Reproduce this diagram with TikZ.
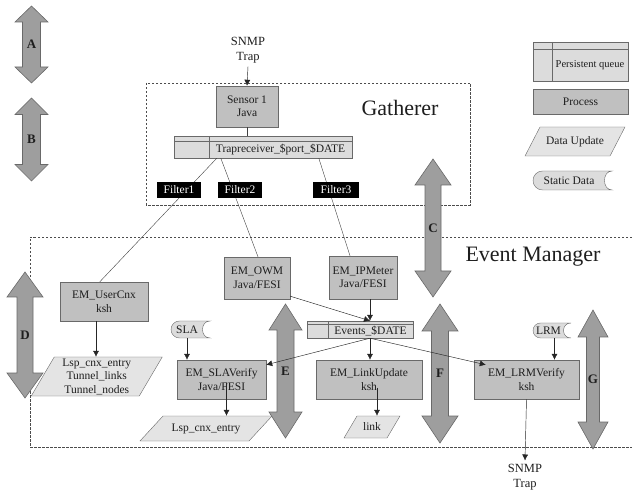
\documentclass[tikz,border=0pt]{standalone}
\usepackage{fontspec}
\setmainfont{Liberation Serif}
\usetikzlibrary{arrows.meta,calc}

\definecolor{procfill}{RGB}{192,192,192}
\definecolor{queuefill}{RGB}{220,220,220}
\definecolor{datafill}{RGB}{228,228,228}
\definecolor{arrfill}{RGB}{158,158,158}
\definecolor{edgegray}{RGB}{105,105,105}
\definecolor{inkgray}{RGB}{30,30,30}

\tikzset{
  every node/.style={font=\fontsize{11.5}{13.5}\selectfont, text=inkgray},
  process/.style={draw=edgegray, fill=procfill, align=center, inner sep=0pt},
  queue/.style={draw=edgegray, fill=queuefill, inner sep=0pt},
  filterbox/.style={fill=black, text=white, inner sep=0pt, minimum height=16pt},
  shapetext/.style={inner sep=0pt, align=center},
  conn/.style={-{Latex[length=6pt,width=6pt]}, draw=black!85, line width=0.45pt},
  flow/.style={draw=black!75, line width=0.4pt},
  region/.style={draw=black!70, dash pattern=on 2.5pt off 1.5pt, line width=0.4pt},
  bigarrow/.style={draw=edgegray, fill=arrfill, line width=0.6pt},
  arrlabel/.style={font=\fontsize{13}{13}\bfseries\selectfont},
  title/.style={font=\fontsize{22}{24}\selectfont},
  trap/.style={font=\fontsize{12.5}{15}\selectfont, align=center}
}

% double headed grey arrow: name, x, ytop, ybot, head length, head half, shaft half, label
\newcommand{\bigarr}[8]{%
  \filldraw[bigarrow] (#2,#3) -- (#2+#6,#3+#5) -- (#2+#7,#3+#5) -- (#2+#7,#4-#5)
    -- (#2+#6,#4-#5) -- (#2,#4) -- (#2-#6,#4-#5) -- (#2-#7,#4-#5)
    -- (#2-#7,#3+#5) -- (#2-#6,#3+#5) -- cycle;
  \node[arrlabel] (#1) at (#2,{(#3+#4)/2}) {#8};
}
% persistent queue: name, cx, cy, width, height, divider, strip, text
\newcommand{\pqueue}[8]{%
  \node[queue, minimum width=#4pt, minimum height=#5pt] (#1) at (#2,#3) {};
  \draw[edgegray] ([yshift=-#7pt]#1.north west) -- ([yshift=-#7pt]#1.north east);
  \draw[edgegray] ([xshift=#6pt]#1.north west) -- ([xshift=#6pt]#1.south west);
  \node (#1-txt) at ([xshift=#6pt/2, yshift=-#7pt/2]#1.center) {#8};
}
% data update: name, cx, cy, top width, height, slant, text
\newcommand{\dataupd}[7]{%
  \filldraw[draw=edgegray, fill=datafill] (#2-#4/2+#6/2,#3-#5/2) -- (#2+#4/2+#6/2,#3-#5/2)
    -- (#2+#4/2-#6/2,#3+#5/2) -- (#2-#4/2-#6/2,#3+#5/2) -- cycle;
  \node[shapetext, minimum height=#5pt] (#1) at (#2,#3) {#7};
}
% static data: name, x1, y1, x2, y2, text
\newcommand{\statdata}[6]{%
  \pgfmathsetmacro\sdr{(#5-#3)/2}
  \pgfmathsetmacro\sdk{0.55*\sdr}
  \pgfmathsetmacro\sdm{(#3+#5)/2}
  \pgfmathsetmacro\sdh{#5-#3}
  \filldraw[draw=edgegray, fill=queuefill] (#4,#3) -- (#2+\sdr,#3)
    .. controls (#2+\sdr-\sdk,#3) and (#2,\sdm-\sdk) .. (#2,\sdm)
    .. controls (#2,\sdm+\sdk) and (#2+\sdr-\sdk,#5) .. (#2+\sdr,#5)
    -- (#4,#5) .. controls (#4-10,#5) and (#4-10,#3) .. (#4,#3) -- cycle;
  \node[shapetext, minimum height=\sdh pt] (#1) at ({(#2+#4-7)/2},\sdm) {#6};
}

\begin{document}
\begin{tikzpicture}[x=1pt,y=-1pt]
\useasboundingbox (0,0) rectangle (632,494);

% Regions
\draw[region] (146,83) rectangle (470,205);
\node[title] (gath) at (400,108) {Gatherer};
\draw[region] (632,237) -- (30,237) -- (30,447) -- (632,447);
\node[title] (evman) at (533,257) {Event Manager};

% Legend
\pqueue{legqueue}{580.5}{61.5}{95}{39}{19}{7}{\fontsize{10.5}{12}\selectfont Persistent queue}
\node[process, minimum width=95pt, minimum height=25pt] (legproc) at (580.5,101.5) {Process};
\dataupd{legdata}{575}{141.5}{85}{29}{15}{Data Update}
\statdata{legstat}{533}{171}{612}{190}{Static Data}

% Gatherer
\node[trap] (snmpin) at (248,50) {SNMP\\Trap};
\node[process, minimum width=62pt, minimum height=41pt] (sensor) at (247,106.5) {Sensor 1\\Java};
\pqueue{trapq}{263}{147}{178}{22}{35}{5}{Trapreceiver\_\$port\_\$DATE}

% Event Manager
\node[process, minimum width=88pt, minimum height=39pt] (usercnx) at (104,301.5) {EM\_UserCnx\\ksh};
\node[process, minimum width=66pt, minimum height=42pt] (owm) at (257,278) {EM\_OWM\\Java/FESI};
\node[process, minimum width=68pt, minimum height=43pt] (ipmeter) at (363,277.5) {EM\_IPMeter\\Java/FESI};
\pqueue{events}{360}{329.5}{106}{17}{21}{3.5}{Events\_\$DATE}
\node[process, minimum width=89pt, minimum height=39pt] (slaverify) at (221.5,379.5) {EM\_SLAVerify\\Java/FESI};
\node[process, minimum width=106pt, minimum height=39pt] (linkupd) at (369,379.5) {EM\_LinkUpdate\\ksh};
\node[process, minimum width=105pt, minimum height=39pt] (lrmverify) at (526.5,379.5) {EM\_LRMVerify\\ksh};
\statdata{sla}{171}{321}{210}{338}{SLA}
\statdata{lrm}{533}{323}{571}{338}{LRM}
\dataupd{lsp}{96.75}{376.5}{108}{39}{23}{Lsp\_cnx\_entry\\Tunnel\_links\\Tunnel\_nodes}
\dataupd{lspsla}{206}{428.5}{109}{25}{23}{Lsp\_cnx\_entry}
\dataupd{link}{372}{427}{43}{22}{13}{link}
\node[trap] (snmpout) at (525,477) {SNMP\\Trap};

% Grey arrows
\bigarr{arrA}{31.5}{6}{83}{16}{16.5}{9}{A}
\bigarr{arrB}{31.5}{98}{181}{16.5}{16.5}{9}{B}
\bigarr{arrC}{433}{159}{297}{26}{18}{8}{C}
\bigarr{arrD}{25}{272}{398}{25}{18}{8}{D}
\bigarr{arrE}{285.5}{304}{438}{26}{16.5}{8.5}{E}
\bigarr{arrF}{440}{304}{443}{27}{18}{8.5}{F}
\bigarr{arrG}{593}{310}{449}{27}{15}{6.5}{G}

% Connectors
\draw[conn] (snmpin.south) -- (sensor.north);
\draw[flow] (sensor.south) -- (sensor.south |- trapq.north);
\draw[flow] ([xshift=43pt]trapq.south west) -- ([xshift=40pt]usercnx.north west);
\draw[flow] ([xshift=47pt]trapq.south west) -- ([xshift=1pt]owm.north);
\draw[flow] ([xshift=145pt]trapq.south west) -- ([xshift=-13pt]ipmeter.north);
\draw[conn] ([xshift=-8pt]usercnx.south) -- ([xshift=-8pt]usercnx.south |- lsp.north);
\coordinate (evin) at ([xshift=10pt]events.north);
\coordinate (evout) at ([xshift=10pt]events.south);
\draw[conn] (ipmeter.south -| evin) -- (evin);
\draw[conn] ([yshift=3pt]owm.south east) -- (evin);
\draw[conn] (evout) -- (evout |- linkupd.north);
\draw[conn] (evout) -- ([yshift=-5pt]slaverify.north east);
\draw[conn] (evout) -- ([xshift=12pt,yshift=-5pt]lrmverify.north west);
\draw[conn] (sla.south) -- (sla.south |- slaverify.north);
\draw[conn] ([xshift=6pt]lrm.south) -- ([xshift=6pt]lrm.south |- lrmverify.north);
\draw[conn] ([xshift=5pt,yshift=-3pt]slaverify.center) -- ([xshift=5pt]slaverify.center |- lspsla.north);
\draw[conn] ([xshift=8pt,yshift=-8pt]linkupd.center) -- ([xshift=8pt]linkupd.center |- link.north);
\draw[conn] (lrmverify.south) -- (snmpout.north);

% Filters
\node[filterbox, minimum width=44pt] (filt1) at (179,190) {Filter1};
\node[filterbox, minimum width=44pt] (filt2) at (240,190) {Filter2};
\node[filterbox, minimum width=46pt] (filt3) at (336,190) {Filter3};
\end{tikzpicture}
\end{document}
